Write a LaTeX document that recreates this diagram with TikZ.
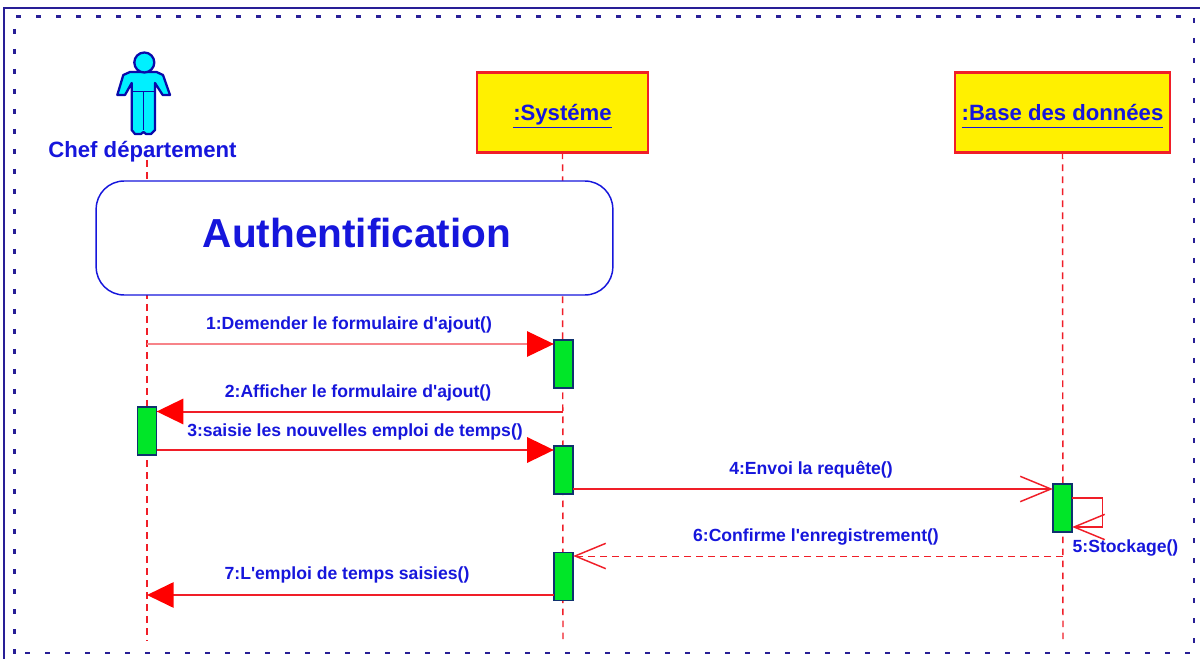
\documentclass[tikz,border=0pt]{standalone}
\usepackage{fontspec}
\setmainfont{Liberation Sans}[Ligatures=TeXOff]
\usetikzlibrary{arrows.meta}
\definecolor{ink}{RGB}{22,22,220}
\definecolor{frameblue}{RGB}{40,30,150}
\definecolor{linered}{RGB}{240,30,40}
\definecolor{actfill}{RGB}{0,230,40}
\definecolor{actedge}{RGB}{15,50,110}
\definecolor{objfill}{RGB}{255,240,0}
\definecolor{actorcyan}{RGB}{0,240,255}
\definecolor{actorline}{RGB}{10,10,170}
\tikzset{
 x=0.75pt,y=-0.75pt,
 every node/.style={font=\bfseries,text=ink,inner sep=0pt,outer sep=0pt},
 objbox/.style={draw=linered,fill=objfill,line width=1.7pt,minimum width=128.5pt,minimum height=60pt,text height=15pt,text depth=3pt,font=\bfseries\fontsize{16.6}{20}\selectfont},
 activation/.style={draw=actedge,fill=actfill,line width=1.1pt,minimum width=14.5pt,minimum height=36pt},
 lifeline/.style={draw=linered,line width=1.1pt,dash pattern=on 5pt off 4pt},
 msg/.style={draw=linered,line width=1.5pt},
 filledtip/.style={-{Triangle[length=20pt,width=19pt,fill=red,color=red]}},
 opentip/.style={-{Straight Barb[length=23pt,width=19pt,color=linered,line width=1.1pt]}},
 msglabel/.style={font=\bfseries\fontsize{13.2}{16}\selectfont},
 dotframe/.style={draw=frameblue,line width=2.2pt,dash pattern=on 4pt off 11pt},
}
\begin{document}
\begin{tikzpicture}
\useasboundingbox (0,0) rectangle (1200,659);
\fill[white] (0,0) rectangle (1200,659);
% frame
\draw[frameblue,line width=1.3pt] (4,659) -- (4,8) -- (1200,8);
\draw[dotframe] (16,16.5) -- (1182,16.5);
\draw[dotframe] (14.5,29) -- (14.5,655);
\draw[dotframe] (25,653) -- (1192,653);
\draw[dotframe] (1194,18) -- (1194,645);
% lifeline ends
\coordinate (actorTop) at (147,160);
\coordinate (actorEnd) at (147,641);
\node[objbox] (sys) at (562.5,112.5) {\underline{\vphantom{y}:Systéme}};
\node[objbox,minimum width=161pt] (db) at (1062.5,112.5) {\underline{\vphantom{y}:Base des données}};
\coordinate (sysEnd) at (563,641);
\coordinate (dbEnd) at (1063,641);
\draw[lifeline] (actorTop) -- (actorEnd);
\draw[lifeline] (sys.south) -- (sysEnd);
\draw[lifeline] (db.south) -- (dbEnd);
% actor
\draw[actorline,fill=actorcyan,line width=1.7pt,line join=round]
 (130,72) -- (156.5,72) -- (163,75) -- (170,95) -- (162.7,95) -- (155,83) -- (155,130) -- (151,134) -- (146,134) -- (143.5,132) -- (141,134) -- (135,134) -- (131.7,130) -- (131.7,83) -- (125,95) -- (117.3,95) -- (123.3,75) -- cycle;
\draw[actorline,line width=1pt] (132,91.5) -- (155,91.5);
\draw[actorline,line width=1pt] (143.5,92) -- (143.5,130);
\draw[actorline,fill=actorcyan,line width=1.7pt] (144.3,62.5) circle[radius=10];
\node[font=\bfseries\fontsize{16.6}{20}\selectfont] (actor) at (142.5,151.5) {Chef département};
% interaction frame
\node[draw=ink,fill=white,line width=1.1pt,rounded corners=21pt,minimum width=387.5pt,minimum height=85.5pt] (frag) at (354.5,238) {};
\node[font=\bfseries\fontsize{30.4}{36}\selectfont] (fragtext) at (357,233) {Authentification};
% activations
\node[activation] (a1) at (563.5,364) {};
\node[activation] (a2) at (147,431) {};
\node[activation] (a3) at (563.5,470) {};
\node[activation,line width=1.3pt] (a4) at (1062.5,508) {};
\node[activation] (a5) at (563.5,576.5) {};
% message anchors
\coordinate (m1s) at (147,344);
\coordinate (m1e) at (a1.west |- m1s);
\coordinate (m2s) at (563,411.5);
\coordinate (m2e) at (a2.east |- m2s);
\coordinate (m3s) at (a2.east |- 0,450);
\coordinate (m3e) at (a3.west |- m3s);
\coordinate (m4s) at (a3.east |- 0,489);
\coordinate (m4e) at (a4.west |- m4s);
\coordinate (m5s) at (a4.east |- 0,498);
\coordinate (m5a) at (1102.5,498);
\coordinate (m5b) at (1102.5,527);
\coordinate (m5e) at (a4.east |- 0,527);
\coordinate (m6s) at (1063,556);
\coordinate (m6e) at (a5.east |- m6s);
\coordinate (m7s) at (a5.west |- 0,595);
\coordinate (m7e) at (147,595);
% messages
\draw[draw=linered!55,line width=0.9pt,filledtip] (m1s) -- (m1e);
\draw[msg,filledtip] (m2s) -- (m2e);
\draw[msg,filledtip] (m3s) -- (m3e);
\draw[msg,opentip] (m4s) -- (m4e);
\draw[msg,line width=1.2pt,opentip] (m5s) -- (m5a) -- (m5b) -- (m5e);
\draw[draw=linered,line width=0.7pt,dash pattern=on 5pt off 4pt,opentip] (m6s) -- (m6e);
\draw[msg,filledtip] (m7s) -- (m7e);
% labels
\node[msglabel] (l1) at (349,325) {1:Demender le formulaire d'ajout()};
\node[msglabel] (l2) at (358,393) {2:Afficher le formulaire d'ajout()};
\node[msglabel] (l3) at (355,432) {3:saisie les nouvelles emploi de temps()};
\node[msglabel] (l4) at (811,470) {4:Envoi la requête()};
\node[msglabel] (l5) at (1125.5,548) {5:Stockage()};
\node[msglabel] (l6) at (816,537) {6:Confirme l'enregistrement()};
\node[msglabel] (l7) at (347,575) {7:L'emploi de temps saisies()};
\end{tikzpicture}
\end{document}
